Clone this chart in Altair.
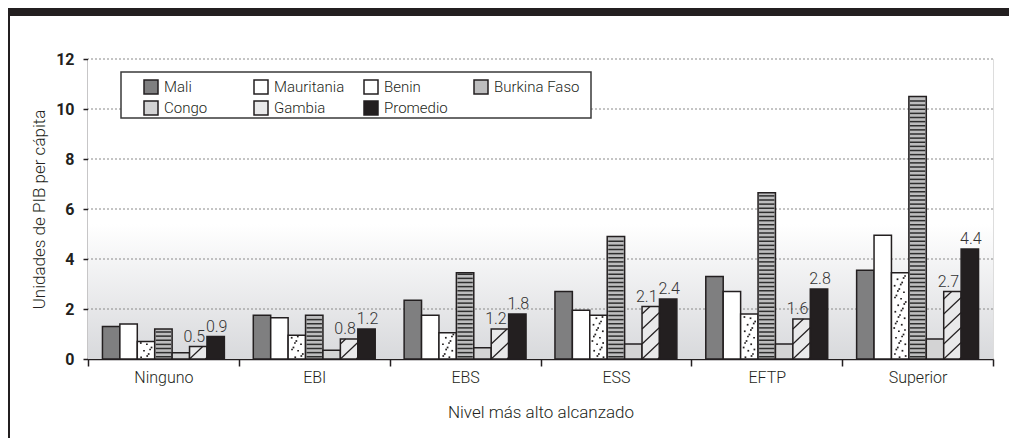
import altair as alt
import pandas as pd

# ---------------- data ----------------
categories = ["Ninguno", "EBI", "EBS", "ESS", "EFTP", "Superior"]
series = ["Mali", "Mauritania", "Benin", "Burkina Faso", "Congo", "Gambia", "Promedio"]

mali = [1.3, 1.75, 2.35, 2.7, 3.3, 3.55]
mauritania = [1.4, 1.65, 1.75, 1.95, 2.7, 4.95]
benin = [0.7, 0.95, 1.05, 1.75, 1.8, 3.45]
burkina_faso = [1.2, 1.75, 3.45, 4.9, 6.65, 10.5]
congo = [0.25, 0.35, 0.45, 0.6, 0.6, 0.8]
gambia = [0.5, 0.8, 1.2, 2.1, 1.6, 2.7]
promedio = [0.9, 1.2, 1.8, 2.4, 2.8, 4.4]

y_ticks = [0, 2, 4, 6, 8, 10, 12]
grid_values = [2, 4, 6, 8, 10, 12]

# legend reading order (filled column by column: 4 columns x 2 rows)
legend_order = ["Mali", "Congo", "Mauritania", "Gambia", "Benin", "Promedio", "Burkina Faso"]
fill_of = {
    "Mali": "#7f7f80", "Mauritania": "#ffffff", "Benin": "#ffffff",
    "Burkina Faso": "#bdbdbe", "Congo": "#d3d3d4", "Gambia": "#e9e9ea",
    "Promedio": "#231f20",
}

values = {
    "Mali": mali, "Mauritania": mauritania, "Benin": benin,
    "Burkina Faso": burkina_faso, "Congo": congo, "Gambia": gambia,
    "Promedio": promedio,
}

INK = "#231f20"
FONT = "Roboto"
OUTER = 0.83
W, H = 905, 300

bars_df = pd.DataFrame(
    [{"category": c, "series": s, "value": v}
     for s in series for c, v in zip(categories, values[s])]
)

# --- texture tables built from the series values ---
j_bf = series.index("Burkina Faso")
stripe_rows, sid = [], 0
for c, v in zip(categories, burkina_faso):
    y = 0.09
    while y < v - 0.05:
        for xo in (j_bf + 0.06, j_bf + 0.94):
            stripe_rows.append({"category": c, "sid": sid, "xo": xo, "value": y})
        sid += 1
        y += 0.165
stripes_df = pd.DataFrame(stripe_rows)

j_bn = series.index("Benin")
dot_rows = []
for ci, (c, v) in enumerate(zip(categories, benin)):
    r, y = 0, 0.07
    while y < v - 0.05:
        fx = (r * 0.618034 + ci * 0.27 + 0.1) % 1.0
        dot_rows.append({"category": c, "xo": j_bn + 0.15 + 0.7 * fx, "value": y})
        if r % 2 == 0:
            fx2 = (fx + 0.5) % 1.0
            dot_rows.append({"category": c, "xo": j_bn + 0.15 + 0.7 * fx2, "value": y + 0.05})
        r += 1
        y += 0.13
dots_df = pd.DataFrame(dot_rows)

j_gm = series.index("Gambia")
S, PERIOD = 0.66, 0.6
hatch_rows, hid = [], 0
for c, v in zip(categories, gambia):
    k = -2
    while k * PERIOD < v:
        y0 = k * PERIOD
        t0 = max(0.0, -y0 / S)
        t1 = min(1.0, (v - y0) / S)
        if t1 > t0 + 0.03:
            hatch_rows.append({"category": c, "hid": hid, "xo": j_gm + t0, "value": y0 + S * t0})
            hatch_rows.append({"category": c, "hid": hid, "xo": j_gm + t1, "value": y0 + S * t1})
            hid += 1
        k += 1
hatch_df = pd.DataFrame(hatch_rows)


def label_table(name):
    return pd.DataFrame(
        [{"category": c, "xo": series.index(name) + 0.5, "value": v, "label": f"{v:.1f}"}
         for c, v in zip(categories, values[name])]
    )


gambia_labels_df = label_table("Gambia")
promedio_labels_df = label_table("Promedio")
grid_df = pd.DataFrame({"value": grid_values})
one = pd.DataFrame({"a": [0]})

# ---------------- encodings ----------------
x_enc = alt.X(
    "category:N", sort=categories,
    scale=alt.Scale(domain=categories, paddingInner=0, paddingOuter=0),
    title="Nivel más alto alcanzado",
    axis=alt.Axis(
        tickBand="extent", grid=False, labelAngle=0,
        domainColor=INK, domainWidth=1.5, tickColor=INK, tickWidth=1.5, tickSize=7,
        labelFont=FONT, labelFontSize=16, labelFontWeight=300, labelColor=INK,
        labelPadding=3,
        titleFont=FONT, titleFontSize=17, titleFontWeight=300, titleColor=INK,
        titlePadding=19,
    ),
)
y_enc = alt.Y(
    "value:Q",
    scale=alt.Scale(domain=[0, 12], nice=False, zero=True),
    title="Unidades de PIB per cápita",
    axis=alt.Axis(
        values=y_ticks, grid=False,
        domainColor=INK, domainWidth=1.5, tickColor=INK, tickWidth=1.5, tickSize=5,
        labelFont=FONT, labelFontSize=16, labelFontWeight="bold", labelColor=INK,
        labelPadding=9,
        titleFont=FONT, titleFontSize=17, titleFontWeight=300, titleColor=INK,
        titlePadding=7,
    ),
)
xo_q = alt.XOffset("xo:Q", scale=alt.Scale(domain=[-OUTER, 7 + OUTER], nice=False, zero=False))

# ---------------- layers ----------------
background = alt.Chart(one).mark_rect(
    fill={"gradient": "linear", "x1": 0, "y1": 0, "x2": 0, "y2": 1,
          "stops": [{"offset": 0, "color": "#ffffff"},
                    {"offset": 0.55, "color": "#ffffff"},
                    {"offset": 1, "color": "#d8d9dc"}]},
    strokeWidth=0,
).encode(x=alt.value(0), x2=alt.value(W), y=alt.value(0), y2=alt.value(H))

grid = alt.Chart(grid_df).mark_rule(
    stroke="#8a8a8a", strokeWidth=1, strokeDash=[2, 2]
).encode(y=y_enc)

bars = alt.Chart(bars_df).mark_bar(stroke=INK, strokeWidth=1.5).encode(
    x=x_enc,
    xOffset=alt.XOffset("series:N", sort=series,
                        scale=alt.Scale(domain=series, paddingInner=0, paddingOuter=OUTER)),
    y=y_enc,
    fill=alt.Fill(
        "series:N", sort=legend_order,
        scale=alt.Scale(domain=legend_order, range=[fill_of[s] for s in legend_order]),
        legend=alt.Legend(
            title=None, orient="none", legendX=55, legendY=20,
            columns=4, gridAlign="all", columnPadding=1, rowPadding=1,
            symbolType="square", symbolSize=196, symbolStrokeColor=INK,
            symbolStrokeWidth=1.5, labelFont=FONT, labelFontSize=15,
            labelFontWeight=300, labelColor=INK, labelOffset=5, padding=0,
        ),
    ),
)

stripes = alt.Chart(stripes_df).mark_line(stroke="#2e2e2e", strokeWidth=1.5).encode(
    x=x_enc, xOffset=xo_q, y=y_enc, detail="sid:N"
)
dots = alt.Chart(dots_df).mark_square(size=3, color=INK, opacity=1).encode(
    x=x_enc, xOffset=xo_q, y=y_enc
)
hatch = alt.Chart(hatch_df).mark_line(stroke=INK, strokeWidth=1.2).encode(
    x=x_enc, xOffset=xo_q, y=y_enc, detail="hid:N"
)
label_style = dict(font=FONT, fontSize=16, fontWeight=300, color="#333333",
                   baseline="alphabetic", dy=-5)
gambia_labels = alt.Chart(gambia_labels_df).mark_text(dx=-4, **label_style).encode(
    x=x_enc, xOffset=xo_q, y=y_enc, text="label:N"
)
promedio_labels = alt.Chart(promedio_labels_df).mark_text(dx=1, **label_style).encode(
    x=x_enc, xOffset=xo_q, y=y_enc, text="label:N"
)

legend_box = alt.Chart(one).mark_rect(fill="#ffffff", stroke="#3a3a3a", strokeWidth=1.5).encode(
    x=alt.value(33), x2=alt.value(503), y=alt.value(13), y2=alt.value(59)
)
header = alt.Chart(one).mark_rect(fill=INK, strokeWidth=0).encode(
    x=alt.value(-80), x2=alt.value(W + 16), y=alt.value(-51), y2=alt.value(-43)
)
border = alt.Chart(one).mark_rule(stroke=INK, strokeWidth=2).encode(
    x=alt.value(-79), y=alt.value(-43), y2=alt.value(H + 79)
)

chart = alt.layer(
    background, grid, bars, stripes, dots, hatch, gambia_labels, promedio_labels,
    legend_box, header, border
).resolve_scale(
    xOffset="independent"
).properties(
    width=W, height=H,
    autosize=alt.AutoSizeParams(type="none"),
    padding={"left": 80, "top": 51, "right": 16, "bottom": 79},
).configure_view(stroke=None).configure(background="#ffffff")

chart.save("out.html", embed_options={"renderer": "svg", "actions": False})
